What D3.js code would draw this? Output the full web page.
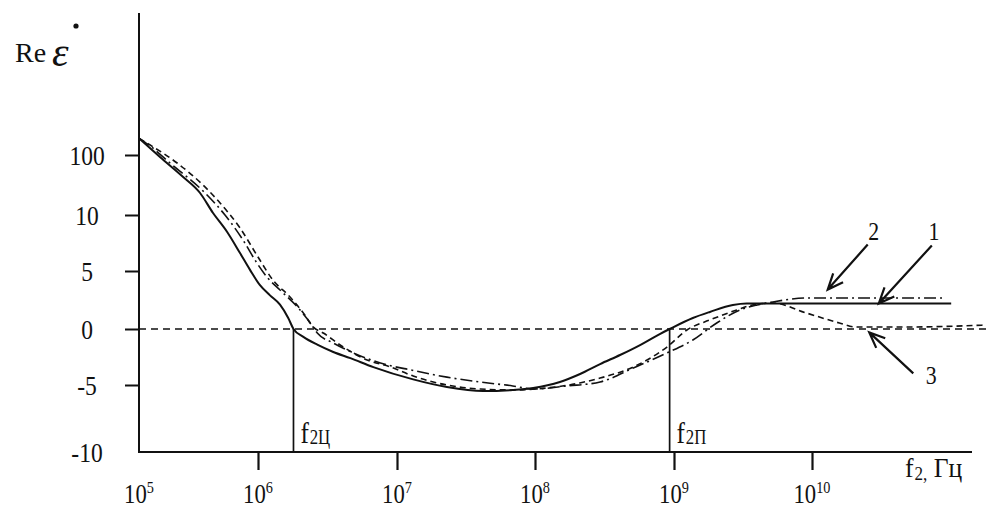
<!DOCTYPE html>
<html>
<head>
<meta charset="utf-8">
<script src="https://cdn.jsdelivr.net/npm/d3@7"></script>
<style>
  body { margin: 0; background: #fff; }
  svg { display: block; }
  text { font-family: "Liberation Serif", "Times New Roman", serif; fill: #111; }
</style>
</head>
<body>
<svg id="chart" width="989" height="509"></svg>
<script>
// Axis ticks
const xTickValues = [1e5, 1e6, 1e7, 1e8, 1e9, 1e10];
const xTickExponents = ["5", "6", "7", "8", "9", "10"];
const yTickValues = [100, 10, 5, 0, -5, -10];
const yTickLabels = ["100", "10", "5", "0", "-5", "-10"];

// Curve 1 (solid)
const freq1 = [1e5, 1.5e5, 2.35e5, 3.26e5, 4.19e5, 5.49e5, 7.06e5, 8.57e5, 1.03e6, 1.22e6, 1.44e6, 1.65e6, 1.8e6,
  2.12e6, 2.67e6, 3.48e6, 4.62e6, 6.76e6, 1.31e7, 2.3e7, 4.2e7, 6.9e7, 9.7e7, 1.51e8, 2.11e8, 2.94e8, 4.09e8,
  5.7e8, 7.9e8, 9.3e8, 1.37e9, 1.82e9, 2.67e9, 3.36e9, 5.2e9, 9.1e9, 1.02e11];
const re1 = [125, 97, 67, 43, 13, 8.5, 6.6, 5.1, 3.8, 2.9, 2.1, 0.95, 0,
  -0.7, -1.4, -2.05, -2.6, -3.4, -4.5, -5.15, -5.45, -5.37, -5.22, -4.73, -4.02, -3.13, -2.32,
  -1.43, -0.45, 0, 0.95, 1.47, 2.07, 2.2, 2.2, 2.2, 2.2];

// Curve 2 (dash-dot)
const freq2 = [1e5, 1.24e5, 1.82e5, 3.59e5, 5.28e5, 7.48e5, 9.8e5, 1.16e6, 1.44e6, 1.92e6, 2.38e6, 2.67e6,
  3.48e6, 4.86e6, 7.6e6, 1.31e7, 2.3e7, 3.99e7, 6.9e7, 9.7e7, 1.7e8, 2.94e8, 5.1e8, 8.9e8, 1.37e9, 2.04e9,
  3.0e9, 4.0e9, 5.2e9, 9.1e9, 2.7e10, 9.3e10];
const re2 = [125, 113.5, 88, 43, 10, 7.77, 5.71, 4.48, 3.36, 1.9, 0.52, -0.36,
  -1.25, -2.14, -3.04, -3.7, -4.3, -4.73, -5.07, -5.3, -5.07, -4.73, -3.48, -2.14, -0.98, 0.52,
  1.64, 2.07, 2.33, 2.67, 2.67, 2.67];

// Curve 3 (dashed)
const freq3 = [1e5, 1.24e5, 2.09e5, 3.45e5, 4.8e5, 7.06e5, 1e6, 1.28e6, 1.7e6, 2.12e6, 2.5e6, 2.95e6, 4.1e6,
  6.1e6, 8.97e6, 1.31e7, 2.3e7, 4.0e7, 6.9e7, 1.22e8, 2.1e8, 2.94e8, 5.1e8, 8.9e8, 1.24e9, 1.82e9, 2.85e9,
  3.7e9, 5.2e9, 9.1e9, 1.58e10, 2.1e10, 4.8e10, 1.8e11];
const re3 = [125, 115, 88, 55, 28, 8.84, 6.25, 4.22, 2.76, 1.38, 0.17, -0.36, -1.61,
  -2.77, -3.39, -4.2, -5.0, -5.3, -5.37, -5.22, -4.82, -4.38, -3.39, -1.61, -0.09, 0.78, 1.64,
  2.07, 2.24, 1.38, 0.52, 0.17, 0.17, 0.34];

// Characteristic frequencies (zero crossings of curve 1)
const markFreqs = [1.8e6, 9.3e8];
const markSubs = ["2Ц", "2П"];

// Curve callouts
const calloutNames = ["1", "2", "3"];
const calloutFreq = [3.05e10, 1.3e10, 2.6e10];
const calloutRe = [2.2, 3.4, -0.3];

const svg = d3.select("#chart");
const ink = "#111";

// Layout of the axes
const axisLeftX = 139, axisTopY = 13, axisRightX = 972;

const x = d3.scaleLog().domain(xTickValues).range([139, 258, 397, 535, 674, 812]);
const y = d3.scaleLinear().domain([-10, -5, 0, 5, 10, 100]).range([452, 385, 329, 271, 215, 155]);
const axisY = y(-10);

// Text helper: slightly condensed serif like the printed figure
function label(x0, y0, anchor, size, sx = 0.84) {
  return svg.append("g")
    .attr("transform", `translate(${x0},${y0}) scale(${sx},1)`)
    .append("text")
    .attr("text-anchor", anchor)
    .style("font-size", size + "px");
}

// Zero reference line
svg.append("line")
  .attr("x1", axisLeftX).attr("x2", 988)
  .attr("y1", y(0)).attr("y2", y(0))
  .attr("stroke", ink).attr("stroke-width", 1.3)
  .attr("stroke-dasharray", "7,5");

// Curves
const series = [
  { freq: freq1, re: re1, width: 2, dash: null },
  { freq: freq2, re: re2, width: 1.6, dash: "12,4,2,4" },
  { freq: freq3, re: re3, width: 1.6, dash: "6,4" }
];
const line = d3.line().curve(d3.curveMonotoneX);
series.forEach(s => {
  const pts = s.freq.map((f, i) => [x(f), y(s.re[i])]);
  svg.append("path")
    .attr("d", line(pts))
    .attr("fill", "none")
    .attr("stroke", ink)
    .attr("stroke-width", s.width)
    .attr("stroke-dasharray", s.dash);
});

// Vertical markers at the characteristic frequencies
markFreqs.forEach((f, i) => {
  svg.append("line")
    .attr("x1", x(f)).attr("x2", x(f))
    .attr("y1", y(0)).attr("y2", axisY)
    .attr("stroke", ink).attr("stroke-width", 1.7);
  const t = label(x(f) + 7, 443, "start", 30);
  t.append("tspan").text("f");
  t.append("tspan").attr("dx", 1).attr("dy", 1).style("font-size", "20px").text(markSubs[i]);
});

// Axis lines
svg.append("line")
  .attr("x1", axisLeftX).attr("x2", axisLeftX)
  .attr("y1", axisTopY).attr("y2", axisY + 1)
  .attr("stroke", ink).attr("stroke-width", 2);
svg.append("line")
  .attr("x1", axisLeftX - 1).attr("x2", axisRightX)
  .attr("y1", axisY).attr("y2", axisY)
  .attr("stroke", ink).attr("stroke-width", 2);

// Y ticks
const yAxis = svg.append("g")
  .attr("transform", `translate(${axisLeftX},0)`)
  .call(d3.axisLeft(y).tickValues(yTickValues.filter(v => v !== -10)).tickSize(14).tickSizeOuter(0).tickFormat(""));
yAxis.select(".domain").remove();
yAxis.selectAll(".tick line").attr("stroke", ink).attr("stroke-width", 2);

yTickValues.forEach((v, i) => {
  label(87, y(v) + 10, "middle", 28).text(yTickLabels[i]);
});

// X ticks
const xAxis = svg.append("g")
  .attr("transform", `translate(0,${axisY - 1})`)
  .call(d3.axisBottom(x).tickValues(xTickValues.slice(1)).tickSize(19).tickSizeOuter(0).tickFormat(""));
xAxis.select(".domain").remove();
xAxis.selectAll(".tick line").attr("stroke", ink).attr("stroke-width", 2.2);

xTickValues.forEach((v, i) => {
  const t = label(x(v), 503, "middle", 27);
  t.append("tspan").text("10");
  t.append("tspan").attr("dy", -10).style("font-size", "17px").text(xTickExponents[i]);
});

// Axis titles
const xt = label(905, 477, "start", 27, 0.95);
xt.append("tspan").text("f");
xt.append("tspan").attr("dx", 1).attr("dy", 3).style("font-size", "18px").text("2,");
xt.append("tspan").attr("dy", -3).text(" Гц");

label(15, 62, "start", 28, 1).text("Re");
label(52, 66, "start", 42, 1).style("font-style", "italic").text("ε");
svg.append("circle").attr("cx", 76).attr("cy", 26).attr("r", 2.6).attr("fill", ink);

// Callout arrows pointing at the curves
const calloutTail = [[53, -58], [40, -45], [44, 41]];
const calloutText = [[2, -5], [6, -5], [18, 11]];
calloutNames.forEach((name, i) => {
  const tx = x(calloutFreq[i]), ty = y(calloutRe[i]);
  const sx = tx + calloutTail[i][0], sy = ty + calloutTail[i][1];
  const ang = Math.atan2(sy - ty, sx - tx);
  const L = 17, a = 0.4;
  const b1 = [tx + L * Math.cos(ang + a), ty + L * Math.sin(ang + a)];
  const b2 = [tx + L * Math.cos(ang - a), ty + L * Math.sin(ang - a)];
  svg.append("path")
    .attr("d", `M${sx},${sy}L${tx},${ty}M${b1[0]},${b1[1]}L${tx},${ty}L${b2[0]},${b2[1]}`)
    .attr("fill", "none").attr("stroke", ink).attr("stroke-width", 2.2)
    .attr("stroke-linejoin", "miter");
  label(sx + calloutText[i][0], sy + calloutText[i][1], "middle", 26).text(name);
});
</script>
</body>
</html>
